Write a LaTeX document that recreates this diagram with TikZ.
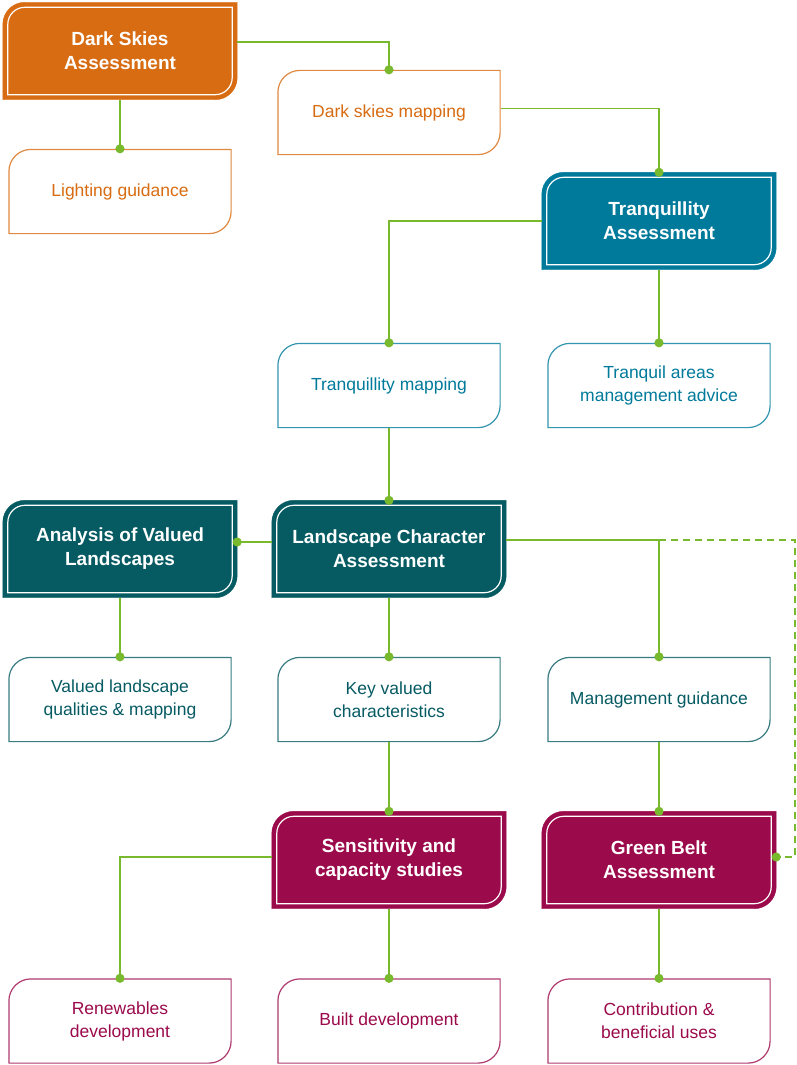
\documentclass[tikz,border=0pt]{standalone}
\usepackage{fontspec}
\setmainfont{Liberation Sans}
\usetikzlibrary{arrows.meta,backgrounds}
\definecolor{dsorange}{RGB}{216,108,18}
\definecolor{tqblue}{RGB}{0,122,155}
\definecolor{lcteal}{RGB}{6,91,99}
\definecolor{scplum}{RGB}{155,10,75}
\definecolor{linkgreen}{RGB}{120,185,45}
\newcommand{\leafbox}[4]{\draw[#4] ([xshift=#2,yshift=#2]#1.south west) -- ([xshift=#2,yshift=-#3-#2]#1.north west) arc[start angle=180,end angle=90,radius=#3] -- ([xshift=-#2,yshift=-#2]#1.north east) -- ([xshift=-#2,yshift=#3+#2]#1.south east) arc[start angle=0,end angle=-90,radius=#3] -- cycle;}
\tikzset{
  head/.style={minimum width=234pt, minimum height=97pt, inner sep=0pt, align=center, text=white, font=\bfseries\fontsize{19}{24}\selectfont},
  leaf/.style={minimum width=223pt, minimum height=85pt, inner sep=0pt, align=center, font=\fontsize{17.5}{23}\selectfont},
  link/.style={draw=linkgreen, line width=1.8pt},
  dotend/.style={-{Circle[length=9pt]}, shorten >=-4.5pt}
}
\begin{document}
\begin{tikzpicture}[x=1pt,y=1pt]
        \useasboundingbox (0,0) rectangle (797,-1065);
        \node[head] (dsa) at (120,-51) {Dark Skies\\Assessment};
        \node[leaf, text=dsorange] (dsm) at (389,-112.5) {Dark skies mapping};
        \node[leaf, text=dsorange] (lg) at (120,-191.5) {Lighting guidance};
        \node[head] (tqa) at (659,-221) {Tranquillity\\Assessment};
        \node[leaf, text=tqblue] (tqm) at (389,-385.5) {Tranquillity mapping};
        \node[leaf, text=tqblue] (tqaa) at (659,-385.5) {Tranquil areas\\management advice};
        \node[head] (ava) at (120,-549) {Analysis of Valued\\Landscapes};
        \node[head] (lca) at (389,-549) {Landscape Character\\Assessment};
        \node[leaf, text=lcteal] (vlq) at (120,-699.5) {Valued landscape\\qualities \& mapping};
        \node[leaf, text=lcteal] (kvc) at (389,-699.5) {Key valued\\characteristics};
        \node[leaf, text=lcteal] (mg) at (659,-699.5) {Management guidance};
        \node[head] (sc) at (389,-860) {Sensitivity and\\capacity studies};
        \node[head] (gb) at (659,-860) {Green Belt\\Assessment};
        \node[leaf, text=scplum] (rd) at (120,-1021) {Renewables\\development};
        \node[leaf, text=scplum] (bd) at (389,-1021) {Built development};
        \node[leaf, text=scplum] (cb) at (659,-1021) {Contribution \&\\beneficial uses};
        \begin{scope}[on background layer]
          \foreach \n/\c in {dsa/dsorange, tqa/tqblue, ava/lcteal, lca/lcteal, sc/scplum, gb/scplum}{
            \leafbox{\n}{0pt}{22pt}{fill=\c, draw=\c}
            \leafbox{\n}{5pt}{17pt}{draw=white, line width=1.2pt}
          }
          \foreach \n/\c in {dsm/dsorange, lg/dsorange, tqm/tqblue, tqaa/tqblue, vlq/lcteal, kvc/lcteal, mg/lcteal, rd/scplum, bd/scplum, cb/scplum}{
            \leafbox{\n}{0.6pt}{22pt}{draw=\c!80, fill=white, line width=1.2pt}
          }
        \end{scope}
        \draw[link,dotend] ([yshift=9pt]dsa.east) -| (dsm.north);
        \draw[link,dotend] (dsa.south) -- (lg.north);
        \draw[link,dotend] ([yshift=4pt]dsm.east) -| (tqa.north);
        \draw[link,dotend] (tqa.west) -| (tqm.north);
        \draw[link,dotend] (tqa.south) -- (tqaa.north);
        \draw[link,dotend] (tqm.south) -- (lca.north);
        \draw[link,dotend] ([yshift=7pt]lca.west) -- ([yshift=7pt]ava.east);
        \draw[link,dotend] ([yshift=9pt]lca.east) -| coordinate[pos=0.5] (fork) (mg.north);
        \draw[link,dotend] (lca.south) -- (kvc.north);
        \draw[link,dotend] (ava.south) -- (vlq.north);
        \draw[link,dotend] (kvc.south) -- (sc.north);
        \draw[link,dotend] (mg.south) -- (gb.north);
        \draw[link,dotend] ([yshift=3pt]sc.west) -| (rd.north);
        \draw[link,dotend] (sc.south) -- (bd.north);
        \draw[link,dotend] (gb.south) -- (cb.north);
        \coordinate (rim) at (795,-540);
        \draw[link,dotend,dash pattern=on 7pt off 5pt] (fork) -- (rim) |- ([yshift=3pt]gb.east);
      \end{tikzpicture}
\end{document}
